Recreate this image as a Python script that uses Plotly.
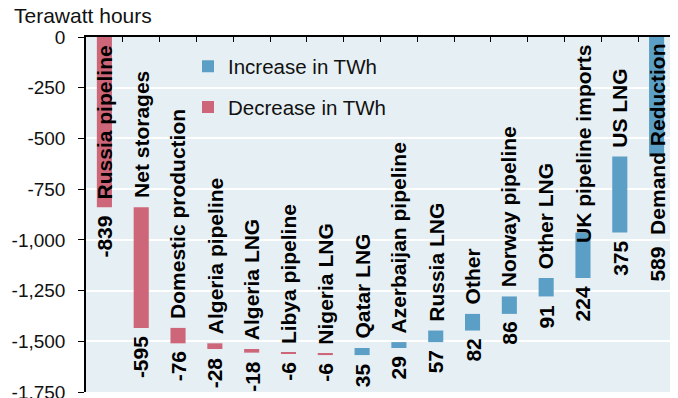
import numpy as np
import plotly.graph_objects as go

# ---------------- data ----------------
categories = ["Russia pipeline", "Net storages", "Domestic production", "Algeria pipeline",
              "Algeria LNG", "Libya pipeline", "Nigeria LNG", "Qatar LNG",
              "Azerbaijan pipeline", "Russia LNG", "Other", "Norway pipeline",
              "Other LNG", "UK pipeline imports", "US LNG", "Demand Reduction"]
changes_twh = [-839, -595, -76, -28, -18, -6, -6, 35, 29, 57, 82, 86, 91, 224, 375, 589]
y_tick_values = [0, -250, -500, -750, -1000, -1250, -1500, -1750]
y_tick_labels = ["0", "-250", "-500", "-750", "-1,000", "-1,250", "-1,500", "-1,750"]
series_names = ["Increase in TWh", "Decrease in TWh"]

# ---------------- style ----------------
# the page adds an 8px body margin, so the figure is 8px smaller than the window
W, H = 670, 390
M_L, M_R, M_T, M_B = 78, 3, 29, 6
PLOT_W = W - M_L - M_R
PLOT_H = H - M_T - M_B
Y_MIN, Y_MAX = -1750, 0
PINK = "rgb(206,102,122)"
BLUE = "rgb(92,159,198)"
BG = "rgb(230,239,243)"
LABEL_FONT = 21
FONT = "Liberation Sans, Arial, sans-serif"

vals = np.array(changes_twh, dtype=float)
ends = np.cumsum(vals)
starts = ends - vals
upper = np.maximum(starts, ends)
lower = np.minimum(starts, ends)

fig = go.Figure()
fig.add_trace(go.Bar(
    x=categories, y=[v if v > 0 else None for v in changes_twh],
    base=[s if v > 0 else None for s, v in zip(starts, changes_twh)],
    name=series_names[0], marker_color=BLUE, marker_line_width=0,
    width=0.41, legendgroup="inc", hoverinfo="skip"))
fig.add_trace(go.Bar(
    x=categories, y=[v if v < 0 else None for v in changes_twh],
    base=[s if v < 0 else None for s, v in zip(starts, changes_twh)],
    name=series_names[1], marker_color=PINK, marker_line_width=0,
    width=0.41, legendgroup="dec", hoverinfo="skip"))

px_per_unit = PLOT_H / (Y_MAX - Y_MIN)
annotations = []
lab_font = dict(family=FONT, size=LABEL_FONT, color="black")
for cat, v, up, lo in zip(categories, changes_twh, upper, lower):
    est_len = len(cat) * 0.5 * LABEL_FONT
    up_px = (Y_MAX - up) * px_per_unit          # distance from top of plot
    lo_px = (Y_MAX - lo) * px_per_unit
    fits_above = up_px - 7 - est_len >= 6
    val_txt = f"<b>{v:d}</b>"
    name_txt = f"<b>{cat}</b>"
    if fits_above:
        annotations.append(dict(x=cat, y=up, xref="x", yref="y", text=name_txt, textangle=-90,
                                showarrow=False, xanchor="center", yanchor="bottom", yshift=7,
                                font=lab_font))
        annotations.append(dict(x=cat, y=lo, xref="x", yref="y", text=val_txt, textangle=-90,
                                showarrow=False, xanchor="center", yanchor="top", yshift=-6,
                                font=lab_font))
    else:
        if 6 + est_len > lo_px:
            # name label reaches below the bar: value follows the name in one label
            annotations.append(dict(x=cat, y=Y_MAX, xref="x", yref="y",
                                    text=f"<b>{v:d}  {cat}</b>", textangle=-90,
                                    showarrow=False, xanchor="center", yanchor="top", yshift=-5,
                                    font=lab_font))
        else:
            annotations.append(dict(x=cat, y=Y_MAX, xref="x", yref="y", text=name_txt, textangle=-90,
                                    showarrow=False, xanchor="center", yanchor="top", yshift=-6,
                                    font=lab_font))
            annotations.append(dict(x=cat, y=lo, xref="x", yref="y", text=val_txt, textangle=-90,
                                    showarrow=False, xanchor="center", yanchor="top", yshift=-6,
                                    font=lab_font))

annotations.append(dict(text="Terawatt hours", xref="paper", yref="paper",
                        x=(4 - M_L) / PLOT_W, y=1 + (M_T - 7.5) / PLOT_H,
                        xanchor="left", yanchor="middle", showarrow=False,
                        font=dict(family=FONT, size=21, color="#111")))

fig.update_layout(
    width=W, height=H,
    margin=dict(l=M_L, r=M_R, t=M_T, b=M_B, autoexpand=False),
    paper_bgcolor="white", plot_bgcolor=BG,
    barmode="overlay",
    font=dict(family=FONT, size=19, color="#111"),
    showlegend=True,
    legend=dict(x=102 / PLOT_W, y=1 - 9.5 / PLOT_H,
                xanchor="left", yanchor="top",
                bgcolor="rgba(0,0,0,0)", traceorder="grouped", tracegroupgap=11,
                font=dict(family=FONT, size=20.5, color="#111")),
    annotations=annotations,
    xaxis=dict(type="category", side="top", showticklabels=False,
               showline=True, linecolor="black", linewidth=1.5,
               ticks="inside", tickson="boundaries", ticklen=5, tickcolor="black",
               showgrid=False, zeroline=False, fixedrange=True),
    yaxis=dict(range=[Y_MIN, Y_MAX], tickvals=y_tick_values, ticktext=y_tick_labels,
               showline=True, linecolor="black", linewidth=1.5,
               ticks="outside", ticklen=6, tickcolor="black", ticklabelstandoff=9,
               ticklabeloverflow="allow",
               showgrid=True, gridcolor="white", gridwidth=1.5, zeroline=False,
               tickfont=dict(family=FONT, size=19, color="#111"), fixedrange=True),
)

fig.write_html("out.html")
